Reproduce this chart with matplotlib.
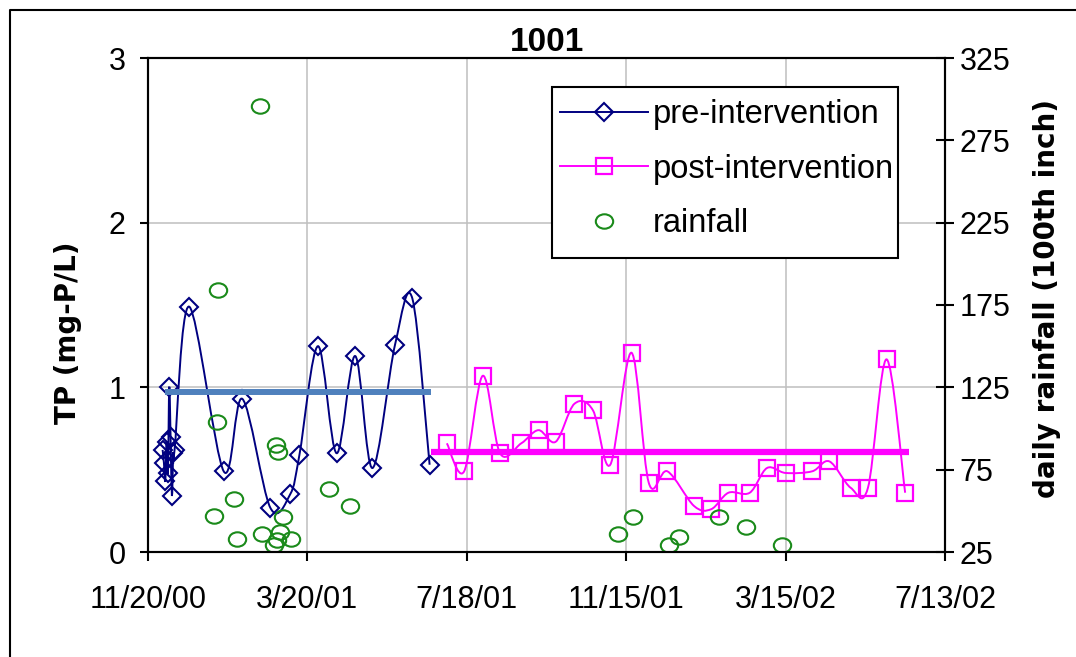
import numpy as np
import pandas as pd
import matplotlib
matplotlib.use("Agg")
import matplotlib.pyplot as plt
import matplotlib.dates as mdates
from matplotlib.path import Path
from matplotlib.patches import PathPatch, Rectangle
from matplotlib.lines import Line2D

plt.rcParams['font.family'] = ['Liberation Sans', 'DejaVu Sans']

# ---- data ----
pre_dates = ['2000-12-01', '2000-12-02', '2000-12-03', '2000-12-04', '2000-12-05',
             '2000-12-06', '2000-12-07', '2000-12-08', '2000-12-09', '2000-12-10',
             '2000-12-21', '2001-01-16', '2001-01-30', '2001-02-20', '2001-03-07',
             '2001-03-14', '2001-03-28', '2001-04-11', '2001-04-25', '2001-05-08',
             '2001-05-25', '2001-06-07', '2001-06-20']
pre_tp = [0.62, 0.54, 0.43, 0.67, 0.48, 1.00, 0.70, 0.34, 0.60, 0.62,
          1.49, 0.49, 0.93, 0.27, 0.35, 0.59, 1.25, 0.60, 1.19, 0.51,
          1.26, 1.54, 0.53]

post_dates = ['2001-07-03', '2001-07-16', '2001-07-30', '2001-08-12', '2001-08-28',
              '2001-09-10', '2001-09-23', '2001-10-07', '2001-10-21', '2001-11-03',
              '2001-11-19', '2001-12-02', '2001-12-16', '2002-01-05', '2002-01-18',
              '2002-01-31', '2002-02-16', '2002-03-01', '2002-03-15', '2002-04-04',
              '2002-04-17', '2002-05-03', '2002-05-16', '2002-05-30', '2002-06-13']
post_tp = [0.66, 0.49, 1.07, 0.60, 0.66, 0.74, 0.67, 0.90, 0.86, 0.53,
           1.21, 0.42, 0.49, 0.28, 0.26, 0.36, 0.36, 0.51, 0.48, 0.49,
           0.55, 0.39, 0.39, 1.17, 0.36]

pre_mean_dates = ['2000-12-03', '2001-06-21']
pre_mean = [0.97, 0.97]
post_mean_dates = ['2001-06-21', '2002-06-16']
post_mean = [0.61, 0.61]

rain_dates = ['2001-01-09', '2001-01-11', '2001-01-12', '2001-01-24', '2001-01-26',
              '2001-02-12', '2001-02-14', '2001-02-23', '2001-02-24', '2001-02-25',
              '2001-02-26', '2001-02-27', '2001-03-02', '2001-03-08', '2001-04-05',
              '2001-04-21', '2001-11-09', '2001-11-20', '2001-12-17', '2001-12-25',
              '2002-01-24', '2002-02-13', '2002-03-12']
rain = [47, 104, 184, 57, 33, 296, 36, 29, 90, 32, 86, 37, 46, 33, 63,
        53, 36, 46, 29, 34, 46, 40, 29]

tick_labels = ['11/20/00', '3/20/01', '7/18/01', '11/15/01', '3/15/02', '7/13/02']


def smooth_path(xs, ys):
    # Catmull-Rom style bezier, like a spreadsheet "smoothed line"
    pts = np.column_stack([xs, ys])
    n = len(pts)
    verts = [pts[0]]
    codes = [Path.MOVETO]
    for i in range(n - 1):
        p0 = pts[max(i - 1, 0)]
        p1 = pts[i]
        p2 = pts[i + 1]
        p3 = pts[min(i + 2, n - 1)]
        verts += [p1 + (p2 - p0) / 6, p2 - (p3 - p1) / 6, p2]
        codes += [Path.CURVE4] * 3
    return Path(verts, codes)


def dnum(dates):
    return mdates.date2num(pd.to_datetime(dates))


pre_x = dnum(pre_dates)
post_x = dnum(post_dates)
rain_x = dnum(rain_dates)
tick_x = dnum(pd.to_datetime(tick_labels, format='%m/%d/%y'))

navy = '#000080'
magenta = '#FF00FF'
green = '#1A8A1A'
steel = '#4F81BD'

fig = plt.figure(figsize=(10.76, 6.57), dpi=100)
ax = fig.add_axes([148 / 1076, 1 - 552 / 657, 797 / 1076, 494 / 657])

ax.add_patch(PathPatch(smooth_path(pre_x, pre_tp), fill=False, ec=navy, lw=1.4))
ax.plot(pre_x, pre_tp, ls='none', marker='D', ms=9.5, mfc='none', mec=navy, mew=1.5)
ax.add_patch(PathPatch(smooth_path(post_x, post_tp), fill=False, ec=magenta, lw=1.4))
ax.plot(post_x, post_tp, ls='none', marker='s', ms=12, mfc='none', mec=magenta, mew=1.6)
ax.plot(dnum(pre_mean_dates), pre_mean, color=steel, lw=4.3, solid_capstyle='butt')
ax.plot(dnum(post_mean_dates), post_mean, color=magenta, lw=4.5, solid_capstyle='butt')

ax.set_xlim(tick_x[0], tick_x[-1])
ax.set_ylim(0, 3)
ax.set_yticks([0, 1, 2, 3])
ax.set_xticks(tick_x)
ax.set_xticklabels(tick_labels)
ax.grid(True, color='#BFBFBF', lw=1.1)
ax.set_axisbelow(True)
ax.tick_params(axis='y', direction='out', length=6, width=1.5, labelsize=22, pad=10)
ax.tick_params(axis='x', direction='out', length=6.5, width=1.5, labelsize=22, pad=17)
for s in ax.spines.values():
    s.set_linewidth(1.5)

ax.set_ylabel('TP (mg-P/L)', family='DejaVu Sans', fontweight='bold', fontsize=20)
ax.yaxis.set_label_coords(-0.083, 0.443)
ax.set_title('1001', fontweight='bold', fontsize=24, pad=4)

ax2 = ax.twinx()
ellipse = Path(Path.unit_circle().vertices * [1.0, 0.83], Path.unit_circle().codes)
ax2.plot(rain_x, rain, ls='none', marker=ellipse, ms=12.5, mfc='none', mec=green, mew=1.5)
ax2.set_ylim(25, 325)
ax2.set_yticks(np.arange(25, 326, 50))
ax2.tick_params(axis='y', direction='inout', length=13, width=1.5, labelsize=22, pad=4)
for s in ax2.spines.values():
    s.set_linewidth(1.5)
ax2.set_ylabel('daily rainfall (100th inch)', family='DejaVu Sans', fontweight='bold',
               fontsize=20, rotation=90)
ax2.yaxis.set_label_coords(1.11, 0.514)

# legend box (drawn separately so its padding can match the original)
ax2.add_patch(Rectangle((0.5075, 0.5951), 0.4335, 0.3462, transform=ax2.transAxes,
                        fc='white', ec='black', lw=1.5, zorder=4, clip_on=False))
handles = [
    Line2D([], [], color=navy, lw=1.4, marker='D', ms=9.5, mfc='none', mew=1.5),
    Line2D([], [], color=magenta, lw=1.4, marker='s', ms=12, mfc='none', mew=1.6),
    Line2D([], [], ls='none', marker=ellipse, ms=12.5, mfc='none', mec=green, mew=1.5),
]
leg = ax2.legend(handles, ['pre-intervention', 'post-intervention', 'rainfall'],
                 loc='upper left', bbox_to_anchor=(0.508, 0.931), borderaxespad=0,
                 fontsize=23.5, handlelength=2.7, handletextpad=0.15,
                 labelspacing=0.72, borderpad=0.22, frameon=False)
leg.set_zorder(5)

# outer frame on left and top edges
fig.add_artist(Line2D([10 / 1076, 10 / 1076, 1], [0, 1 - 10 / 657, 1 - 10 / 657],
                      transform=fig.transFigure, color='black', lw=1.5))

fig.savefig('out.png', dpi=100)
